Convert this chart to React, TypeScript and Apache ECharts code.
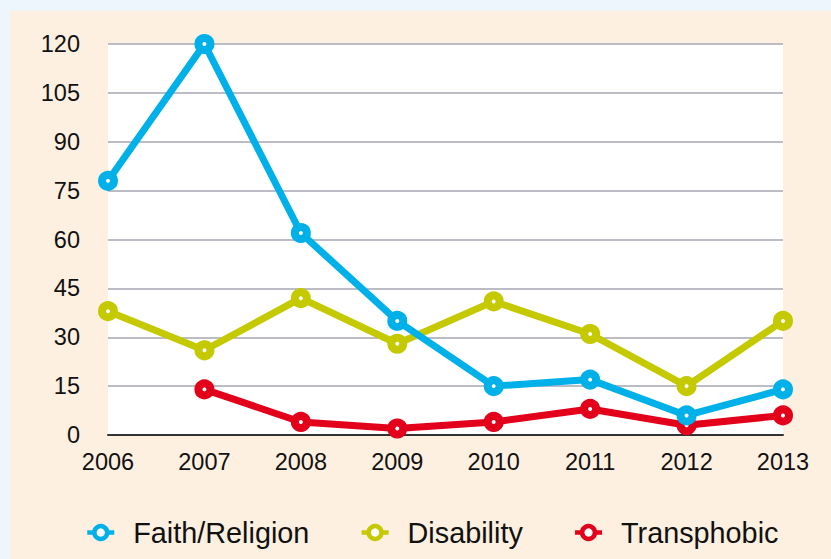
import React, { useEffect, useRef } from "react";
import * as echarts from "echarts";

const years = ["2006", "2007", "2008", "2009", "2010", "2011", "2012", "2013"];
const faithReligion = [78, 120, 62, 35, 15, 17, 6, 14];
const disability = [38, 26, 42, 28, 41, 31, 15, 35];
const transphobic: (number | null)[] = [null, 14, 4, 2, 4, 8, 3, 6];

const seriesNames = ["Faith/Religion", "Disability", "Transphobic"];
const seriesColors = ["#00b1e9", "#c4c900", "#e2001a"];

export default function App() {
  const ref = useRef<HTMLDivElement>(null);
  useEffect(() => {
    document.body.style.margin = "0";
    if (!ref.current) return;
    const chart = echarts.init(ref.current, null, { renderer: "svg" });
    const datasets = [faithReligion, disability, transphobic];
    const font = "'Liberation Sans', Arial, Helvetica, sans-serif";
    chart.setOption({
      animation: false,
      backgroundColor: "#eef6fd",
      textStyle: { fontFamily: font },
      graphic: [
        {
          type: "rect",
          left: 10,
          top: 11,
          shape: { width: 821, height: 548 },
          style: { fill: "#fdf0e0" },
          z: -10,
        },
      ],
      grid: {
        left: 108,
        right: 48,
        top: 44,
        bottom: 124,
        show: true,
        backgroundColor: "#ffffff",
        borderWidth: 0,
      },
      legend: {
        data: seriesNames,
        left: 80,
        top: 513,
        itemWidth: 27,
        itemHeight: 16,
        itemGap: 50,
        textStyle: {
          fontSize: 28.8,
          color: "#111",
          fontFamily: font,
          padding: [0, 0, 0, 14],
        },
        itemStyle: { borderWidth: 4.5, color: "#fff" },
        lineStyle: { width: 4.5 },
      },
      xAxis: {
        type: "category",
        data: years,
        boundaryGap: false,
        axisLine: { show: true, lineStyle: { color: "#333", width: 2 } },
        axisTick: { show: false },
        axisLabel: { fontSize: 23.5, color: "#111", margin: 15, fontFamily: font },
        splitLine: { show: false },
      },
      yAxis: {
        type: "value",
        min: 0,
        max: 120,
        interval: 15,
        axisLine: { show: false },
        axisTick: { show: false },
        axisLabel: { fontSize: 23.5, color: "#111", margin: 28, fontFamily: font },
        splitLine: { show: true, lineStyle: { color: "#bcbcc4", width: 2 } },
      },
      series: seriesNames.map((name, i) => ({
        name,
        type: "line",
        data: datasets[i],
        z: 5 - i,
        symbol: "circle",
        symbolSize: 12,
        showAllSymbol: true,
        connectNulls: false,
        lineStyle: { color: seriesColors[i], width: 7 },
        itemStyle: { color: "#ffffff", borderColor: seriesColors[i], borderWidth: 8 },
        emphasis: { disabled: true },
      })),
    });
    return () => chart.dispose();
  }, []);
  return <div ref={ref} style={{ width: 831, height: 559 }} />;
}
